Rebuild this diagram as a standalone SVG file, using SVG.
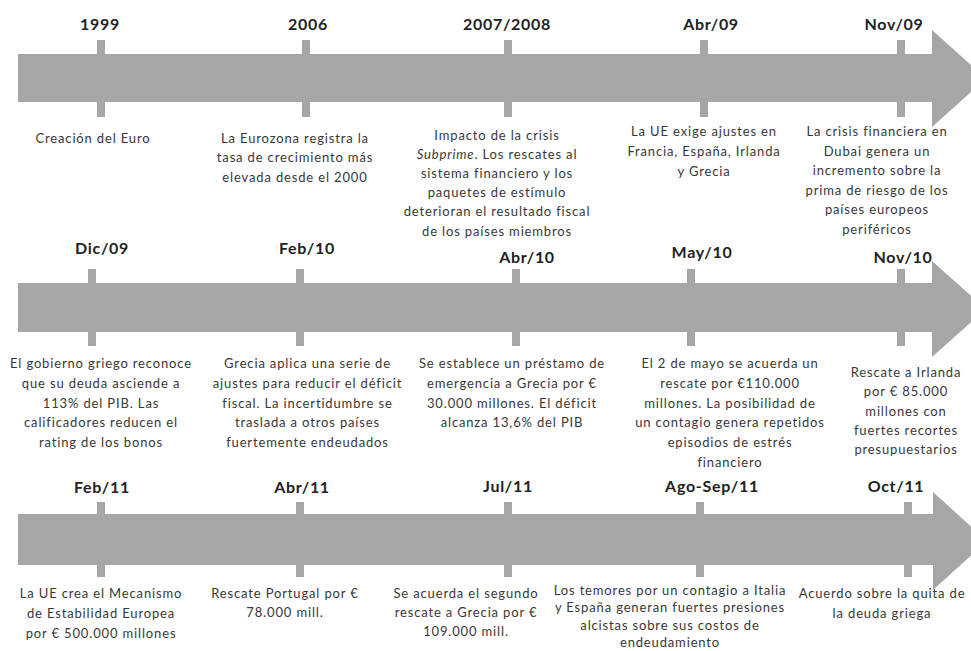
<svg xmlns="http://www.w3.org/2000/svg" width="971" height="651" viewBox="0 0 971 651">
<style>
.bar{fill:#a6a6a6}
.tick{fill:#a6a6a6}
.d{font-family:Lato,"Open Sans",sans-serif;font-weight:bold;font-size:16px;text-anchor:middle;fill:#222222;letter-spacing:0.7px}
.t{font-family:Lato,"Open Sans",sans-serif;font-size:13px;text-anchor:middle;fill:#383838;letter-spacing:0.85px}
</style>
<rect width="971" height="651" fill="#ffffff"/>
<g id="timelines">
<path class="bar" d="M18,54 H932 V30 L986,78.5 L932,127 V102 H18 Z"/>
<path class="bar" d="M18,283 H932 V261 L986,309 L932,357 V332 H18 Z"/>
<path class="bar" d="M18,514 H933 V492 L987,541 L933,590 V565 H18 Z"/>
</g>
<g id="e1999">
<rect class="tick" x="97" y="40" width="8" height="77"/>
<text class="d" x="100" y="30">1999</text>
<text class="t" x="93" y="143">Creación del Euro</text>
</g>
<g id="e2006">
<rect class="tick" x="302" y="40" width="8" height="77"/>
<text class="d" x="308" y="30">2006</text>
<text class="t"><tspan x="295" y="143">La Eurozona registra la</tspan><tspan x="295" y="162">tasa de crecimiento más</tspan><tspan x="295" y="181.5">elevada desde el 2000</tspan></text>
</g>
<g id="e2007">
<rect class="tick" x="504" y="40" width="8" height="77"/>
<text class="d" x="507" y="30">2007/2008</text>
<text class="t"><tspan x="497" y="139.5">Impacto de la crisis</tspan><tspan x="497" y="158.7"><tspan font-style="italic">Subprime</tspan>.  Los rescates al</tspan><tspan x="497" y="177.9">sistema financiero y los</tspan><tspan x="497" y="197.1">paquetes de estímulo</tspan><tspan x="497" y="216.3">deterioran  el resultado fiscal</tspan><tspan x="497" y="235.5">de los países miembros</tspan></text>
</g>
<g id="eAbr09">
<rect class="tick" x="700" y="40" width="8" height="77"/>
<text class="d" x="711" y="30">Abr/09</text>
<text class="t"><tspan x="704" y="136">La UE exige ajustes en</tspan><tspan x="704" y="156">Francia, España, Irlanda</tspan><tspan x="704" y="176">y Grecia</tspan></text>
</g>
<g id="eNov09">
<rect class="tick" x="897" y="40" width="8" height="77"/>
<text class="d" x="894" y="30">Nov/09</text>
<text class="t"><tspan x="877" y="136">La crisis financiera en</tspan><tspan x="877" y="155.5">Dubai genera un</tspan><tspan x="877" y="175">incremento sobre la</tspan><tspan x="877" y="194.5">prima de riesgo de los</tspan><tspan x="877" y="214">países europeos</tspan><tspan x="877" y="233.5">periféricos</tspan></text>
</g>
<g id="eDic09">
<rect class="tick" x="88" y="269" width="8" height="77"/>
<text class="d" x="102" y="254">Dic/09</text>
<text class="t"><tspan x="101" y="368">El gobierno griego reconoce</tspan><tspan x="101" y="387.75">que su deuda asciende a</tspan><tspan x="101" y="407.5">113% del PIB. Las</tspan><tspan x="101" y="427.25">calificadores reducen el</tspan><tspan x="101" y="447">rating de los bonos</tspan></text>
</g>
<g id="eFeb10">
<rect class="tick" x="296" y="269" width="8" height="77"/>
<text class="d" x="307" y="254">Feb/10</text>
<text class="t"><tspan x="307.5" y="368">Grecia aplica una serie de</tspan><tspan x="307.5" y="387.75">ajustes para reducir el déficit</tspan><tspan x="307.5" y="407.5">fiscal. La incertidumbre se</tspan><tspan x="307.5" y="427.25">traslada a otros países</tspan><tspan x="307.5" y="447">fuertemente endeudados</tspan></text>
</g>
<g id="eAbr10">
<rect class="tick" x="512" y="269" width="8" height="77"/>
<text class="d" x="527" y="263">Abr/10</text>
<text class="t"><tspan x="512" y="368">Se establece  un préstamo de</tspan><tspan x="512" y="387.75">emergencia a Grecia por €</tspan><tspan x="512" y="407.5">30.000 millones. El déficit</tspan><tspan x="512" y="427.25">alcanza 13,6% del PIB</tspan></text>
</g>
<g id="eMay10">
<rect class="tick" x="687" y="269" width="8" height="77"/>
<text class="d" x="702" y="258">May/10</text>
<text class="t"><tspan x="730" y="368">El 2 de mayo se acuerda un</tspan><tspan x="730" y="387.75">rescate por  €110.000</tspan><tspan x="730" y="407.5">millones. La posibilidad de</tspan><tspan x="730" y="427.25">un contagio genera repetidos</tspan><tspan x="730" y="447">episodios de estrés</tspan><tspan x="730" y="466.75">financiero</tspan></text>
</g>
<g id="eNov10">
<rect class="tick" x="897" y="269" width="8" height="77"/>
<text class="d" x="903" y="263">Nov/10</text>
<text class="t"><tspan x="906" y="377">Rescate a Irlanda</tspan><tspan x="906" y="396.3">por € 85.000</tspan><tspan x="906" y="415.6">millones con</tspan><tspan x="906" y="434.9">fuertes recortes</tspan><tspan x="906" y="454.2">presupuestarios</tspan></text>
</g>
<g id="eFeb11">
<rect class="tick" x="97" y="502" width="8" height="75"/>
<text class="d" x="102" y="493">Feb/11</text>
<text class="t"><tspan x="101" y="597.5">La UE crea el Mecanismo</tspan><tspan x="101" y="617.7">de Estabilidad Europea</tspan><tspan x="101" y="638">por € 500.000 millones</tspan></text>
</g>
<g id="eAbr11">
<rect class="tick" x="296" y="502" width="8" height="75"/>
<text class="d" x="302" y="493">Abr/11</text>
<text class="t"><tspan x="285" y="597.5">Rescate Portugal por €</tspan><tspan x="285" y="616.5">78.000 mill.</tspan></text>
</g>
<g id="eJul11">
<rect class="tick" x="504" y="502" width="8" height="75"/>
<text class="d" x="508" y="492">Jul/11</text>
<text class="t"><tspan x="466" y="597.5">Se acuerda el segundo</tspan><tspan x="466" y="616.5">rescate a Grecia por €</tspan><tspan x="466" y="636">109.000 mill.</tspan></text>
</g>
<g id="eAgoSep11">
<rect class="tick" x="696" y="502" width="8" height="75"/>
<text class="d" x="712" y="492">Ago-Sep/11</text>
<text class="t"><tspan x="670" y="595">Los temores por un contagio a Italia</tspan><tspan x="670" y="612.3">y España generan fuertes presiones</tspan><tspan x="670" y="630">alcistas sobre sus costos de</tspan><tspan x="670" y="646.7">endeudamiento</tspan></text>
</g>
<g id="eOct11">
<rect class="tick" x="904" y="502" width="8" height="75"/>
<text class="d" x="896" y="492">Oct/11</text>
<text class="t"><tspan x="882" y="597.5">Acuerdo sobre la quita de</tspan><tspan x="882" y="617.5">la deuda griega</tspan></text>
</g>
</svg>
